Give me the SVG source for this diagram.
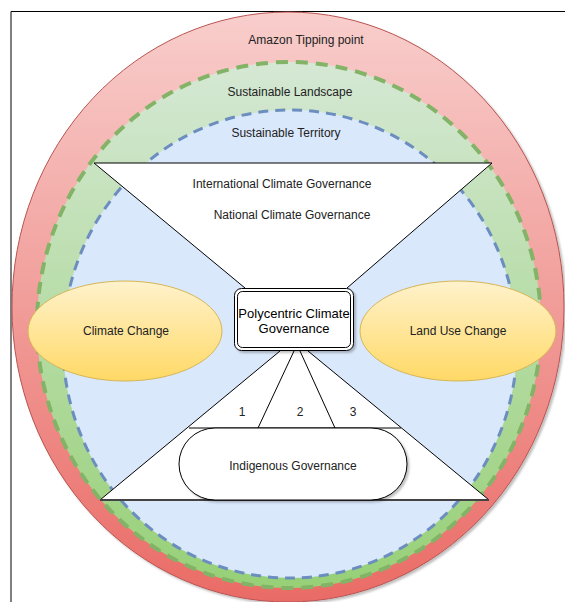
<svg xmlns="http://www.w3.org/2000/svg" width="565" height="602" viewBox="0 0 565 602">
<defs>
<linearGradient id="gRed" x1="0" y1="0" x2="0" y2="1"><stop offset="0" stop-color="#f8cecc"/><stop offset="1" stop-color="#ea6b66"/></linearGradient>
<linearGradient id="gGreen" x1="0" y1="0" x2="0" y2="1"><stop offset="0" stop-color="#d5e8d4"/><stop offset="1" stop-color="#97d077"/></linearGradient>
<linearGradient id="gYellow" x1="0" y1="0" x2="0" y2="1"><stop offset="0" stop-color="#fff2cc"/><stop offset="1" stop-color="#ffd966"/></linearGradient>
<filter id="sh" x="-10%" y="-10%" width="130%" height="130%"><feDropShadow dx="2" dy="2" stdDeviation="1.2" flood-color="#000" flood-opacity="0.25"/></filter>
</defs>
<style>
text{font-family:"Liberation Sans",Arial,sans-serif;font-size:12px;fill:#222;text-anchor:middle}
.ln{stroke:#000;stroke-width:1;fill:none}
.wf{fill:#fff;stroke:#000;stroke-width:1}
</style>
<rect x="0" y="0" width="565" height="602" fill="#fff"/>
<g id="frame"><path d="M11,602 V11.5 H565" fill="none" stroke="#000" stroke-width="1"/></g>
<g id="amazon"><ellipse cx="288" cy="307" rx="276" ry="295" fill="url(#gRed)" stroke="#b85450" stroke-width="1" filter="url(#sh)"/><text x="306" y="44">Amazon Tipping point</text></g>
<g id="landscape"><ellipse cx="289" cy="325" rx="252" ry="263" fill="url(#gGreen)" stroke="#82b366" stroke-width="4" stroke-dasharray="12 8"/><text x="290" y="96">Sustainable Landscape</text></g>
<g id="territory"><ellipse cx="290" cy="344" rx="227" ry="234" fill="#dae8fc" stroke="#6c8ebf" stroke-width="3" stroke-dasharray="10 7"/><text x="286" y="137">Sustainable Territory</text></g>
<g id="climate-governance"><path d="M94,163 H492 L347,288 H245 Z" fill="#fff" stroke="none"/><path d="M245,288 L94,163 H492 L347,288" class="ln"/><text x="282" y="188">International Climate Governance</text><text x="292" y="219">National Climate Governance</text></g>
<g id="climate-change"><ellipse cx="125" cy="331" rx="97" ry="50" fill="url(#gYellow)" stroke="#d6b656" stroke-width="1"/><text x="126" y="335">Climate Change</text></g>
<g id="land-use"><ellipse cx="458" cy="331" rx="98" ry="50" fill="url(#gYellow)" stroke="#d6b656" stroke-width="1"/><text x="458" y="335">Land Use Change</text></g>
<g id="local-governance"><path d="M280,351 H308 L489,500 H100 Z" fill="#fff" stroke="none"/><path d="M100,500 L280,351 M308,351 L489,500 M294,351 L258,428 M300,351 L335,428 M189,428 H401" class="ln"/><path d="M100,500 H489" stroke="#444" stroke-width="2" fill="none"/><text x="242" y="416">1</text><text x="300" y="416">2</text><text x="353" y="416">3</text></g>
<g id="indigenous"><rect x="179" y="428" width="228" height="72" rx="36" ry="36" class="wf" filter="url(#sh)"/><text x="293" y="470">Indigenous Governance</text></g>
<g id="polycentric"><rect x="234.5" y="288.5" width="119" height="62" rx="7" class="wf" filter="url(#sh)"/><rect x="237.5" y="291.5" width="113" height="56" rx="5" class="wf"/><text x="294" y="318" style="font-size:13px;fill:#000">Polycentric Climate</text><text x="294" y="333" style="font-size:13px;fill:#000">Governance</text></g>
<g id="connectors"></g>
</svg>
